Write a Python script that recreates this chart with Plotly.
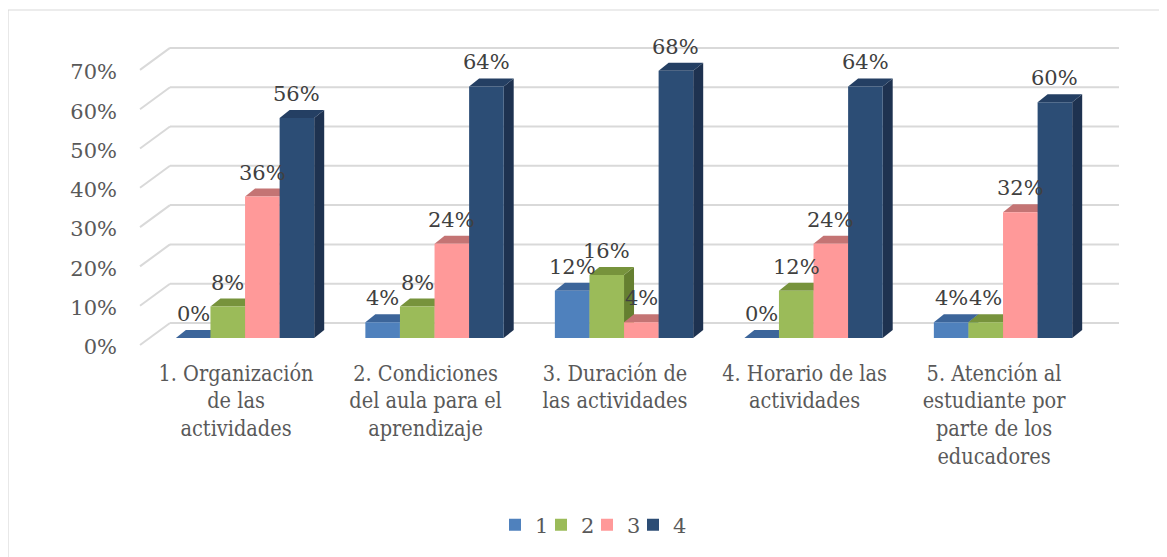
import plotly.graph_objects as go

# ---------------- data ----------------
categories = [
    "1. Organización<br>de las<br>actividades",
    "2. Condiciones<br>del aula para el<br>aprendizaje",
    "3. Duración de<br>las actividades",
    "4. Horario de las<br>actividades",
    "5. Atención al<br>estudiante por<br>parte de los<br>educadores",
]
series_names = ["1", "2", "3", "4"]
serie_1 = [0, 4, 12, 0, 4]
serie_2 = [8, 8, 16, 12, 4]
serie_3 = [36, 24, 4, 24, 32]
serie_4 = [56, 64, 68, 64, 60]
y_ticks = [0, 10, 20, 30, 40, 50, 60, 70]
y_tick_labels = ["0%", "10%", "20%", "30%", "40%", "50%", "60%", "70%"]

# ---------------- styles / geometry ----------------
front_colors = ["#4f81bd", "#9bbb59", "#ff9999", "#2c4d75"]
top_colors = ["#3c659a", "#77933c", "#c47474", "#243f63"]
side_colors = ["#32578a", "#657f30", "#b06262", "#1e3250"]
GRID = "#d9d9d9"
TXT = "#595959"
LBL = "#404040"
FONT = "DejaVu Serif, Liberation Serif, serif"
CAT_FONT = "DejaVu Serif Condensed, DejaVu Serif, serif"

W, H = 1167, 557
OX, OY = 8, 8                 # page body margin
L, R, T, B = 170, 1119, 40, 350   # screen coordinates of plot area
x_left, x_right = -0.396, 4.612
px_x = (R - L) / (x_right - x_left)
base_px = 338
px_y = 3.93
y_lo = -(B - base_px) / px_y
y_hi = (base_px - T) / px_y

bargap = 0.27
nser = len(series_names)
bw = (1 - bargap) / nser

depth_dx = 10 / px_x          # 3D depth offset (data units)
depth_dy = 8 / px_y
back_off = 15 / px_y          # back wall vs bar base
front_off = -7 / px_y         # floor front edge vs bar base


def paper_x(px):
    return (px - L) / (R - L)


def paper_y(py):
    return (B - py) / (B - T)


series = [serie_1, serie_2, serie_3, serie_4]

fig = go.Figure()
for j, (name, vals) in enumerate(zip(series_names, series)):
    fig.add_trace(go.Bar(
        x=list(range(len(categories))), y=vals, name=name,
        marker=dict(color=front_colors[j], line=dict(width=0)),
        hoverinfo="skip",
    ))
# invisible spacer entry so the last legend label is not clipped
fig.add_trace(go.Scatter(x=[None], y=[None], mode="markers", name=" ",
                         marker=dict(opacity=0, color="rgba(0,0,0,0)"),
                         showlegend=True, hoverinfo="skip"))

shapes = []
# outer chart border
shapes.append(dict(type="rect", xref="paper", yref="paper",
                   x0=paper_x(8), x1=paper_x(1185), y0=paper_y(10), y1=paper_y(575),
                   line=dict(color=GRID, width=1.2), fillcolor="rgba(0,0,0,0)", layer="below"))
# back-wall gridlines with floor diagonals
for t in y_ticks:
    shapes.append(dict(type="line", xref="paper", yref="y", x0=0, x1=1,
                       y0=t + back_off, y1=t + back_off,
                       line=dict(color=GRID, width=2), layer="between"))
    shapes.append(dict(type="line", xref="paper", yref="y",
                       x0=paper_x(140), x1=0, y0=t + front_off, y1=t + back_off,
                       line=dict(color=GRID, width=2), layer="between"))

# 3D faces (top and side) for every bar
annotations = []
for i in range(len(categories)):
    for j in range(nser):
        v = series[j][i]
        x0 = i - (1 - bargap) / 2 + j * bw
        x1 = x0 + bw
        side = (f"M {x1},0 L {x1 + depth_dx},{depth_dy} L {x1 + depth_dx},{v + depth_dy} "
                f"L {x1},{v} Z")
        top = (f"M {x0},{v} L {x0 + depth_dx},{v + depth_dy} L {x1 + depth_dx},{v + depth_dy} "
               f"L {x1},{v} Z")
        shapes.append(dict(type="path", xref="x", yref="y", path=side,
                           fillcolor=side_colors[j], line=dict(width=0), layer="between"))
        shapes.append(dict(type="path", xref="x", yref="y", path=top,
                           fillcolor=top_colors[j], line=dict(width=0), layer="between"))
        annotations.append(dict(x=(x0 + x1) / 2, y=v, xref="x", yref="y",
                                text=f"{v}%", showarrow=False, yanchor="middle",
                                yshift=24, font=dict(family=FONT, size=21, color=LBL)))

fig.update_layout(
    width=W - OX, height=H - OY,
    margin=dict(l=L - OX, r=W - R, t=T - OY, b=H - B, pad=0),
    paper_bgcolor="white", plot_bgcolor="rgba(0,0,0,0)",
    barmode="group", bargap=bargap, bargroupgap=0,
    showlegend=True,
    legend=dict(orientation="h", x=paper_x(495), xanchor="left",
                y=paper_y(525), yanchor="middle",
                font=dict(family=FONT, size=21, color=TXT),
                itemwidth=30, entrywidth=1, entrywidthmode="pixels",
                bgcolor="rgba(0,0,0,0)"),
    xaxis=dict(range=[x_left, x_right], tickmode="array",
               tickvals=list(range(len(categories))), ticktext=categories,
               showgrid=False, zeroline=False, showline=False, ticks="",
               tickfont=dict(family=CAT_FONT, size=21.5, color=TXT),
               ticklabelstandoff=8, ticklabelshift=-9, fixedrange=True),
    yaxis=dict(range=[y_lo, y_hi], tickmode="array", tickvals=y_ticks,
               ticktext=y_tick_labels, showgrid=False, zeroline=False,
               showline=False, ticks="",
               tickfont=dict(family=FONT, size=21, color=TXT),
               ticklabelstandoff=52, ticklabelshift=9, fixedrange=True),
    shapes=shapes,
    annotations=annotations,
)

fig.write_html("out.html")
